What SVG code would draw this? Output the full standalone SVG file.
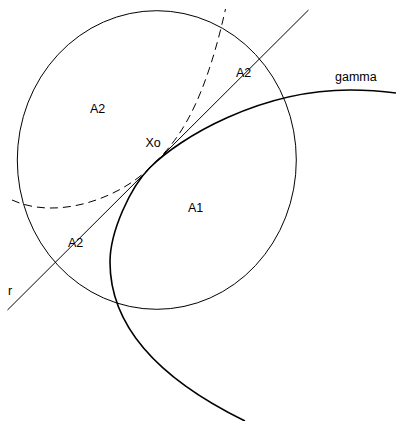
<svg xmlns="http://www.w3.org/2000/svg" width="396" height="421" viewBox="0 0 396 421">
<style>
.thin{fill:none;stroke:#000;stroke-width:1}
.dash{fill:none;stroke:#000;stroke-width:1;stroke-dasharray:8 5}
.thick{fill:none;stroke:#000;stroke-width:1.6}
text{font-family:"Liberation Sans",Arial,sans-serif;font-size:12.5px;fill:#000}
</style>
<rect width="396" height="421" fill="#fff"/>
<g id="circle"><ellipse class="thin" cx="156.8" cy="160" rx="139.5" ry="149.3"/></g>
<g id="line-r"><line class="thin" x1="7.5" y1="310" x2="308.5" y2="10"/></g>
<g id="dashed"><path class="dash" d="M12,200 C58,221 120,197.5 150,167.5 C170,147.5 200.5,121.5 225.5,9"/></g>
<g id="gamma"><path class="thick" d="M245,421 C209,403.4 110,352 110,262 C110,232 130,187.5 150,167.5 C180,137.5 260,90 350,90 C370,90 385,91.5 396,93"/></g>
<g id="labels">
<text x="90" y="113">A2</text>
<text x="145.5" y="147">Xo</text>
<text x="236" y="77">A2</text>
<text x="335" y="81">gamma</text>
<text x="188" y="212">A1</text>
<text x="68" y="247">A2</text>
<text x="8" y="295">r</text>
</g>
</svg>
